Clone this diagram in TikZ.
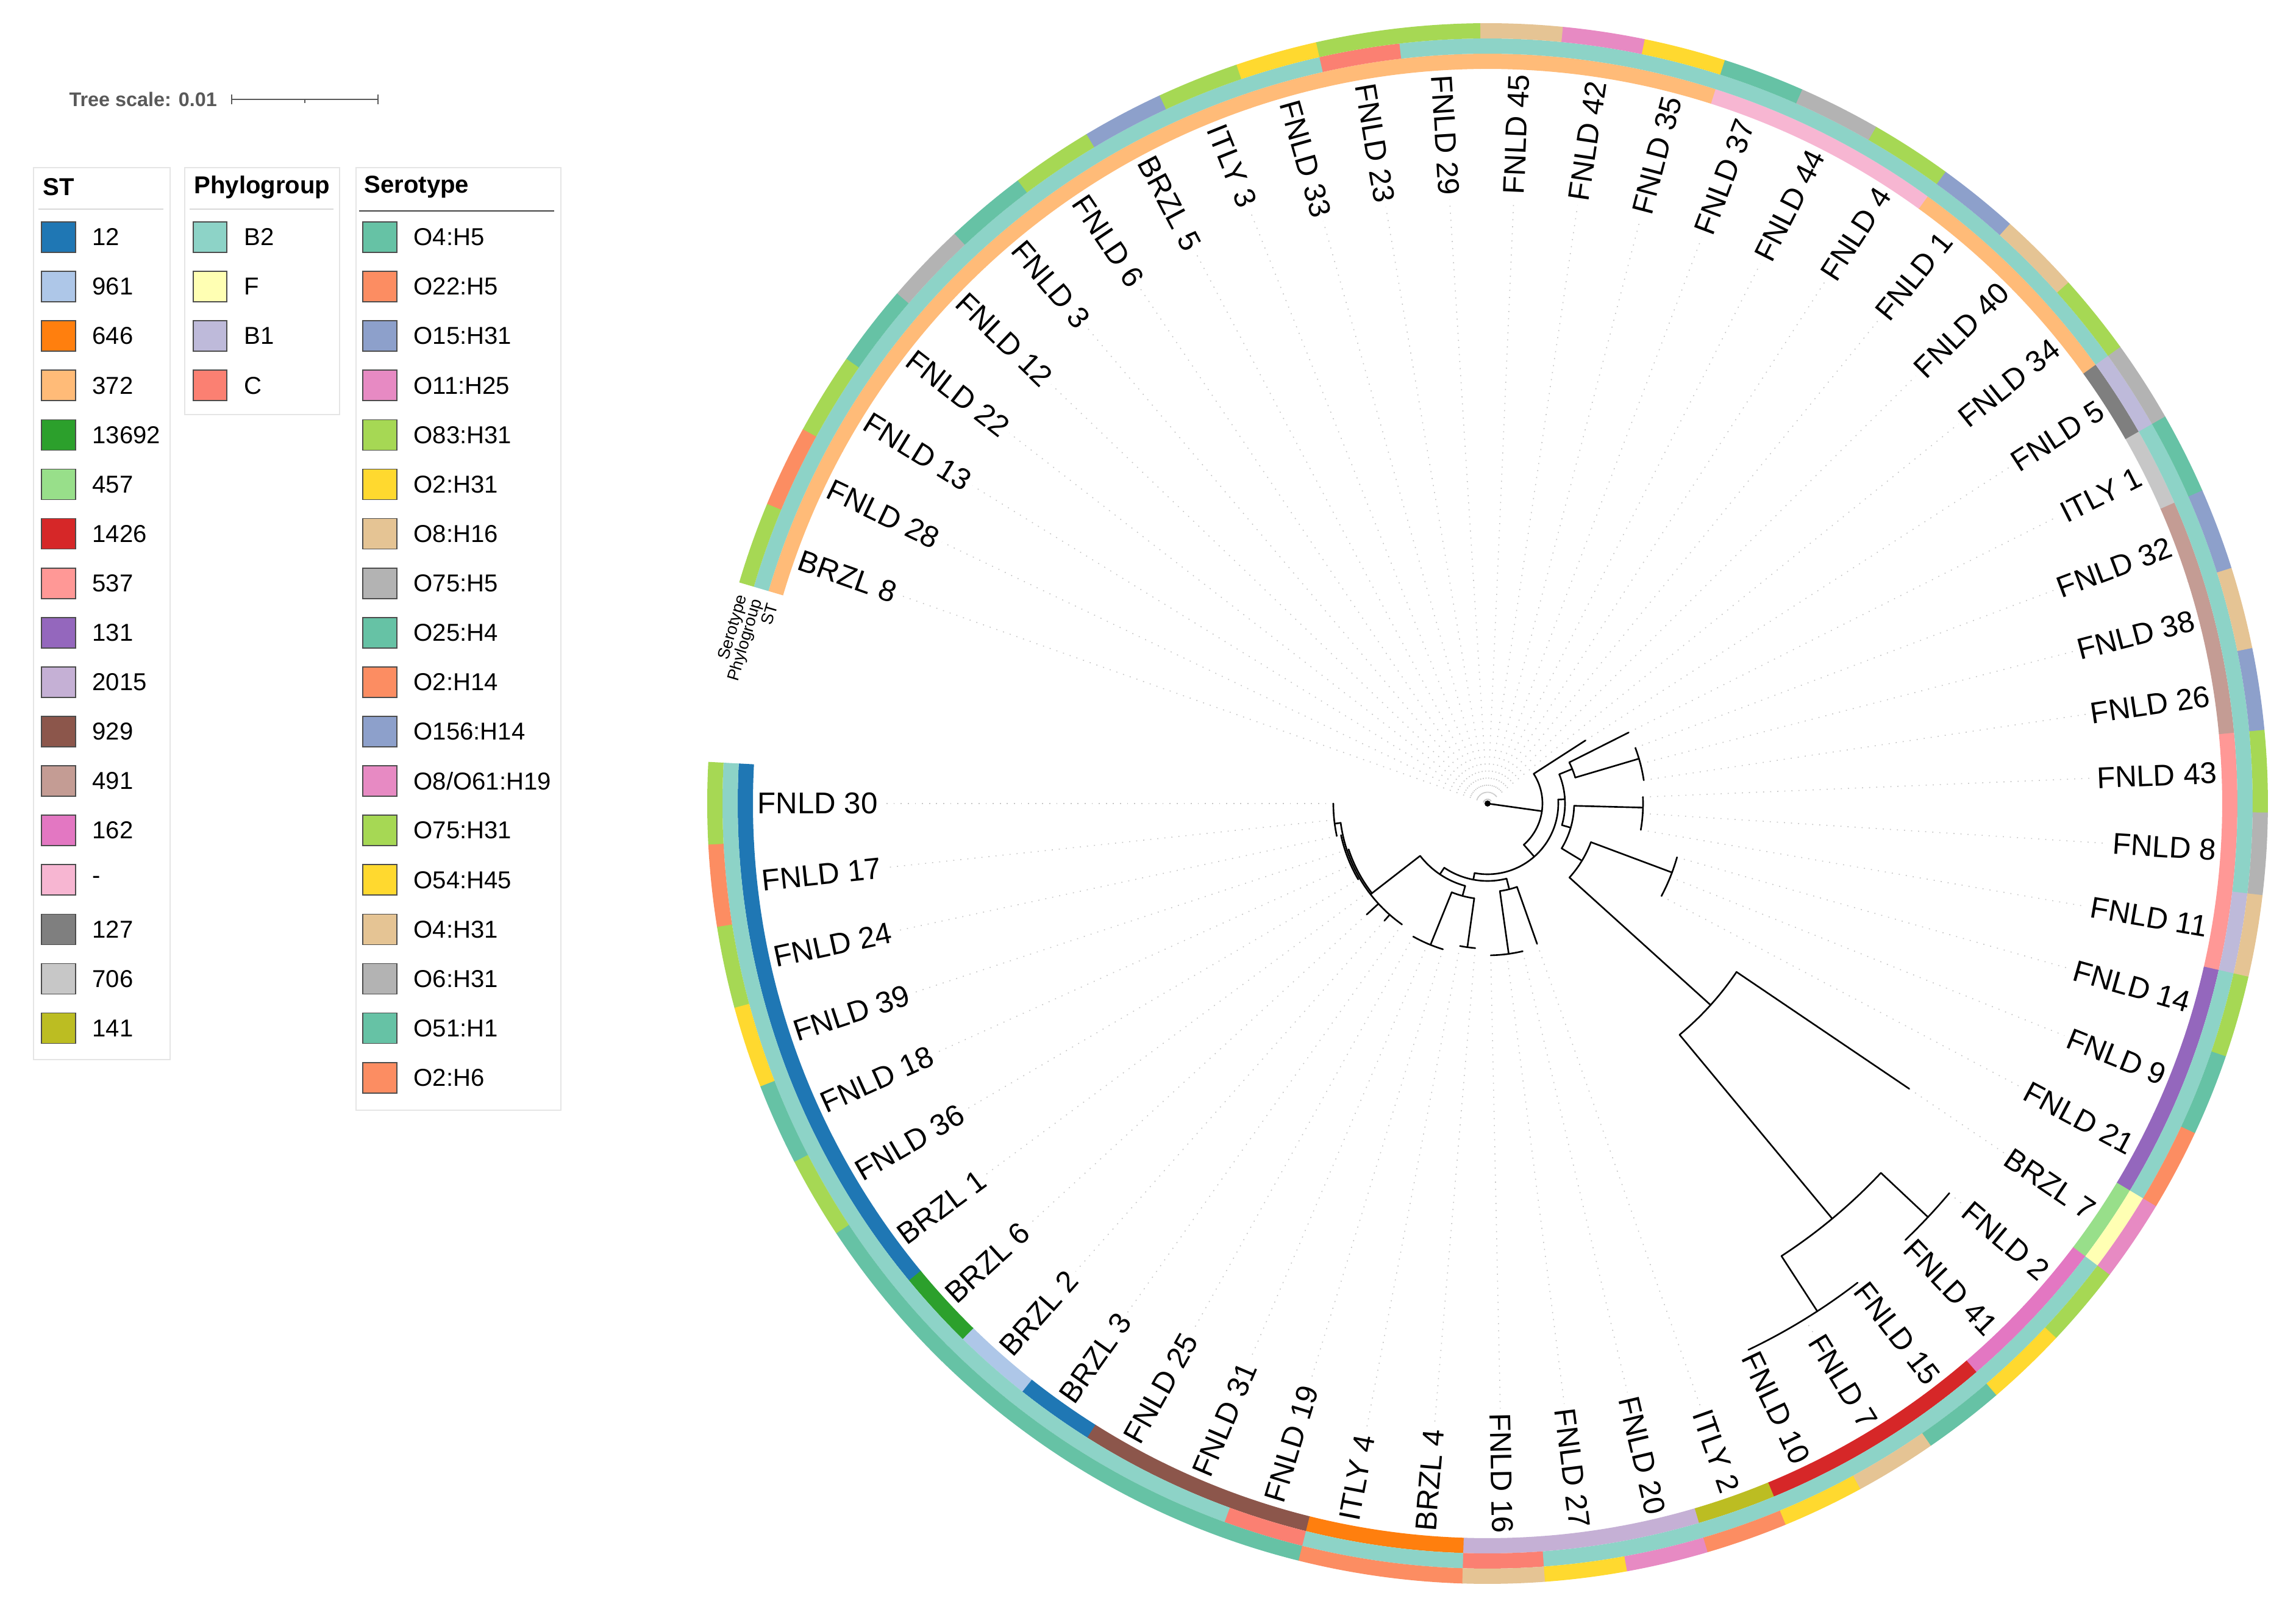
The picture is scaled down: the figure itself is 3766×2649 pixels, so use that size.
\documentclass[tikz,border=0pt]{standalone}
\usepackage{fontspec}
\setmainfont{Liberation Sans}
% ST colours
\definecolor{st12}{HTML}{1F77B4}
\definecolor{st961}{HTML}{AEC7E8}
\definecolor{st646}{HTML}{FF7F0E}
\definecolor{st372}{HTML}{FFBB78}
\definecolor{st13692}{HTML}{2CA02C}
\definecolor{st457}{HTML}{98DF8A}
\definecolor{st1426}{HTML}{D62728}
\definecolor{st537}{HTML}{FF9896}
\definecolor{st131}{HTML}{9467BD}
\definecolor{st2015}{HTML}{C5B0D5}
\definecolor{st929}{HTML}{8C564B}
\definecolor{st491}{HTML}{C49C94}
\definecolor{st162}{HTML}{E377C2}
\definecolor{stNA}{HTML}{F7B6D2}
\definecolor{st127}{HTML}{7F7F7F}
\definecolor{st706}{HTML}{C7C7C7}
\definecolor{st141}{HTML}{BCBD22}
% phylogroup colours
\definecolor{pgB2}{HTML}{8DD3C7}
\definecolor{pgF}{HTML}{FFFFB3}
\definecolor{pgB1}{HTML}{BEBADA}
\definecolor{pgC}{HTML}{FB8072}
% serotype colours
\definecolor{soA}{HTML}{66C2A5}
\definecolor{soB}{HTML}{FC8D62}
\definecolor{soC}{HTML}{8DA0CB}
\definecolor{soD}{HTML}{E78AC3}
\definecolor{soE}{HTML}{A6D854}
\definecolor{soF}{HTML}{FFD92F}
\definecolor{soG}{HTML}{E5C494}
\definecolor{soH}{HTML}{B3B3B3}
\tikzset{
  branch/.style={line width=0.75pt, line cap=round},
  leafdots/.style={gray!45, line width=0.45pt, dash pattern=on 0.5pt off 2.8pt},
  leaflabel/.style={inner sep=2pt, font=\fontsize{14}{16}\selectfont},
  legendbox/.style={draw=black!10, line width=0.6pt},
  swatch/.style={draw=black!70, line width=0.5pt},
  legendtext/.style={anchor=west, inner sep=0pt, font=\fontsize{11.4}{13}\selectfont},
  legendtitle/.style={anchor=west, inner sep=0pt, font=\bfseries\fontsize{11.4}{13}\selectfont},
  ringname/.style={anchor=east, rotate=73.5, inner sep=1pt, font=\fontsize{7.8}{9}\selectfont},
}
\newcommand{\radial}[3]{\draw[branch] (#1:#2) -- (#1:#3);}
\newcommand{\carc}[3]{\draw[branch] (#2:#1) arc[start angle=#2, end angle=#3, radius=#1];}
\begin{document}
\begin{tikzpicture}[x=0.01cm, y=0.01cm]
  \useasboundingbox (-2440,-1331) rectangle (1326,1318);
  \fill[white] (-2440,-1331) rectangle (1326,1318);

  % rings: ST, phylogroup, serotype
  \foreach \i/\cs/\cp/\co in {1/st12/pgB2/soE, 2/st12/pgB2/soB, 3/st12/pgB2/soE,
      4/st12/pgB2/soF, 5/st12/pgB2/soA, 6/st12/pgB2/soE, 7/st12/pgB2/soA,
      8/st13692/pgB2/soA, 9/st961/pgB2/soA, 10/st12/pgB2/soA, 11/st929/pgB2/soA,
      12/st929/pgB2/soA, 13/st929/pgC/soA, 14/st646/pgB2/soB, 15/st646/pgB2/soB,
      16/st2015/pgC/soG, 17/st2015/pgB2/soF, 18/st2015/pgB2/soD, 19/st141/pgB2/soB,
      20/st1426/pgB2/soF, 21/st1426/pgB2/soG, 22/st1426/pgB2/soA, 23/st162/pgB2/soF,
      24/st162/pgB2/soE, 25/st457/pgF/soD, 26/st131/pgB2/soB, 27/st131/pgB2/soA,
      28/st131/pgB2/soE, 29/st537/pgB1/soG, 30/st537/pgB2/soH, 31/st537/pgB2/soE,
      32/st491/pgB2/soC, 33/st491/pgB2/soG, 34/st491/pgB2/soC, 35/st706/pgB2/soA,
      36/st127/pgB1/soH, 37/st372/pgB2/soE, 38/st372/pgB2/soG, 39/st372/pgB2/soC,
      40/stNA/pgB2/soE, 41/stNA/pgB2/soH, 42/stNA/pgB2/soA, 43/st372/pgB2/soF,
      44/st372/pgB2/soD, 45/st372/pgB2/soG, 46/st372/pgB2/soE, 47/st372/pgC/soE,
      48/st372/pgB2/soF, 49/st372/pgB2/soE, 50/st372/pgB2/soC, 51/st372/pgB2/soE,
      52/st372/pgB2/soA, 53/st372/pgB2/soH, 54/st372/pgB2/soA, 55/st372/pgB2/soE,
      56/st372/pgB2/soB, 57/st372/pgB2/soE} {
    \pgfmathsetmacro\aA{180+(\i-1)*6.08-3.06}
    \pgfmathsetmacro\aB{180+(\i-1)*6.08+3.06}
    \fill[\cs] (\aA:1205) arc[start angle=\aA, end angle=\aB, radius=1205]
      -- (\aB:1230) arc[start angle=\aB, end angle=\aA, radius=1230] -- cycle;
    \fill[\cp] (\aA:1230) arc[start angle=\aA, end angle=\aB, radius=1230]
      -- (\aB:1255) arc[start angle=\aB, end angle=\aA, radius=1255] -- cycle;
    \fill[\co] (\aA:1255) arc[start angle=\aA, end angle=\aB, radius=1255]
      -- (\aB:1280) arc[start angle=\aB, end angle=\aA, radius=1280] -- cycle;
  }
  \node[ringname] (nameso) at (164.2:1268) {Serotype};
  \node[ringname] (namepg) at (164.2:1243) {Phylogroup};
  \node[ringname] (namest) at (164.2:1218) {ST};

  % leaf labels and dotted guides
  \foreach \i/\lab/\tipr in {1/FNLD 30/253, 2/FNLD 17/253, 3/FNLD 24/253,
      4/FNLD 39/243, 5/FNLD 18/243, 6/FNLD 36/243, 7/BRZL 1/243, 8/BRZL 6/269,
      9/BRZL 2/256, 10/BRZL 3/243, 11/FNLD 25/250, 12/FNLD 31/250, 13/FNLD 19/250,
      14/ITLY 4/238, 15/BRZL 4/238, 16/FNLD 16/249, 17/FNLD 27/249, 18/FNLD 20/249,
      19/ITLY 2/244, 20/FNLD 10/993, 21/FNLD 7/993, 22/FNLD 15/993, 23/FNLD 41/991,
      24/FNLD 2/991, 25/BRZL 7/835, 26/FNLD 21/323, 27/FNLD 9/323, 28/FNLD 14/323,
      29/FNLD 11/255, 30/FNLD 8/255, 31/FNLD 43/255, 32/FNLD 26/259, 33/FNLD 38/259,
      34/FNLD 32/259, 35/ITLY 1/259, 36/FNLD 5/191, 37/FNLD 34/6, 38/FNLD 40/6,
      39/FNLD 1/6, 40/FNLD 4/6, 41/FNLD 44/6, 42/FNLD 37/6, 43/FNLD 35/6,
      44/FNLD 42/6, 45/FNLD 45/6, 46/FNLD 29/6, 47/FNLD 23/6, 48/FNLD 33/6,
      49/ITLY 3/6, 50/BRZL 5/6, 51/FNLD 6/6, 52/FNLD 3/6, 53/FNLD 12/6,
      54/FNLD 22/6, 55/FNLD 13/6, 56/FNLD 28/6, 57/BRZL 8/6} {
    \pgfmathsetmacro\ang{180+(\i-1)*6.08}
    \pgfmathtruncatemacro\lft{(\ang<270)||(\ang>450)}
    \coordinate (tip\i) at (\ang:\tipr);
    \ifnum\lft=1
      \node[leaflabel, anchor=west, rotate=\ang-180] (lab\i) at (\ang:1205) {\lab};
      \draw[leafdots] (tip\i) -- (lab\i.east);
    \else
      \node[leaflabel, anchor=east, rotate=\ang] (lab\i) at (\ang:1205) {\lab};
      \draw[leafdots] (tip\i) -- (lab\i.west);
    \fi
  }

  % tree
  \fill (0,0) circle[radius=5];
  \radial{352}{0}{90}
  \carc{90}{311.3}{392.8}
  \radial{392.8}{90}{191}
  \radial{311.3}{90}{116}
  \carc{116}{259.4}{363.2}
  \radial{259.4}{116}{127}
  \radial{363.2}{116}{127}
  % lower part
  \carc{127}{236}{284.2}
  \radial{236}{127}{140}
  \radial{284.2}{127}{145}
  \carc{140}{217.8}{254.8}
  \radial{217.8}{140}{243}
  \radial{254.8}{140}{157}
  \carc{243}{187.5}{234.72}
  \carc{240}{198.24}{217.8}
  \carc{246}{192.16}{210.4}
  \radial{187.5}{243}{253}
  \carc{253}{180}{192.16}
  \radial{222.56}{243}{269}
  \radial{228.64}{243}{256}
  \carc{157}{248}{262}
  \radial{248}{157}{250}
  \radial{262}{157}{238}
  \carc{250}{240.8}{252.96}
  \carc{238}{259.04}{265.12}
  \carc{145}{278}{289.44}
  \radial{278}{145}{249}
  \radial{289.44}{145}{244}
  \carc{249}{271.2}{283.36}
  % right part
  \carc{127}{343.8}{382.2}
  \radial{343.8}{127}{142}
  \radial{382.2}{127}{150}
  \carc{150}{376.5}{386.72}
  \radial{376.5}{150}{259}
  \radial{386.72}{150}{259}
  \carc{259}{368.48}{380.64}
  \carc{142}{328.8}{358.5}
  \radial{328.8}{142}{181}
  \radial{358.5}{142}{255}
  \carc{255}{350.24}{362.4}
  \carc{181}{317.9}{339.5}
  \radial{339.5}{181}{323}
  \carc{323}{332}{344.16}
  % long branch
  \radial{317.9}{181}{493}
  \carc{493}{309.7}{325.92}
  \radial{325.92}{493}{835}
  \radial{309.7}{493}{885}
  \carc{885}{303}{316.8}
  \radial{316.8}{885}{991}
  \radial{303}{885}{993}
  \carc{991}{313.76}{319.84}
  \carc{993}{295.52}{307.68}

  % tree scale
  \node[anchor=west, inner sep=0pt, text=black!65,
        font=\bfseries\fontsize{9.2}{11}\selectfont] (scaletxt) at (-2327,1155) {Tree scale: 0.01};
  \coordinate (sbL) at (-2060,1155);
  \coordinate (sbM) at (-1940,1155);
  \coordinate (sbR) at (-1820,1155);
  \draw[black!65, line width=0.6pt] (sbL) -- (sbR);
  \draw[black!65, line width=0.6pt] ([yshift=-0.08cm]sbL) -- ([yshift=0.08cm]sbL);
  \draw[black!65, line width=0.6pt] ([yshift=0.08cm]sbR) -- ([yshift=-0.08cm]sbR);
  \draw[black!65, line width=0.5pt] (sbM) -- ([yshift=-0.06cm]sbM);

  % legend: ST
  \draw[legendbox] (-2385,-420) rectangle (-2161,1043);
  \node[legendtitle] (sttitle) at (-2370,1011) {ST};
  \draw[black!15, line width=0.6pt] (-2377,975) -- (-2172,975);
  \foreach \k/\t/\c in {1/12/st12, 2/961/st961, 3/646/st646, 4/372/st372,
      5/13692/st13692, 6/457/st457, 7/1426/st1426, 8/537/st537, 9/131/st131,
      10/2015/st2015, 11/929/st929, 12/491/st491, 13/162/st162, 14/-/stNA,
      15/127/st127, 16/706/st706, 17/141/st141} {
    \pgfmathsetmacro\yc{929-(\k-1)*81.1}
    \filldraw[swatch, fill=\c] (-2372,\yc-25) rectangle (-2316,\yc+25);
    \node[legendtext] (st\k) at (-2289,\yc) {\t};
  }

  % legend: phylogroup
  \draw[legendbox] (-2137,638) rectangle (-1883,1043);
  \node[legendtitle] (pgtitle) at (-2122,1011) {Phylogroup};
  \draw[black!15, line width=0.6pt] (-2129,975) -- (-1893,975);
  \foreach \k/\t/\c in {1/B2/pgB2, 2/F/pgF, 3/B1/pgB1, 4/C/pgC} {
    \pgfmathsetmacro\yc{929-(\k-1)*81.1}
    \filldraw[swatch, fill=\c] (-2123,\yc-25) rectangle (-2068,\yc+25);
    \node[legendtext] (pg\k) at (-2040,\yc) {\t};
  }

  % legend: serotype
  \draw[legendbox] (-1856,-503) rectangle (-1520,1043);
  \node[legendtitle] (sotitle) at (-1843,1011) {Serotype};
  \draw[black!75, line width=0.6pt] (-1851,972) -- (-1531,972);
  \foreach \k/\t/\c in {1/O4:H5/soA, 2/O22:H5/soB, 3/O15:H31/soC, 4/O11:H25/soD,
      5/O83:H31/soE, 6/O2:H31/soF, 7/O8:H16/soG, 8/O75:H5/soH, 9/O25:H4/soA,
      10/O2:H14/soB, 11/O156:H14/soC, 12/{O8/O61:H19}/soD, 13/O75:H31/soE,
      14/O54:H45/soF, 15/O4:H31/soG, 16/O6:H31/soH, 17/O51:H1/soA, 18/O2:H6/soB} {
    \pgfmathsetmacro\yc{929-(\k-1)*81.1}
    \filldraw[swatch, fill=\c] (-1845,\yc-25) rectangle (-1789,\yc+25);
    \node[legendtext] (so\k) at (-1762,\yc) {\t};
  }
\end{tikzpicture}
\end{document}
